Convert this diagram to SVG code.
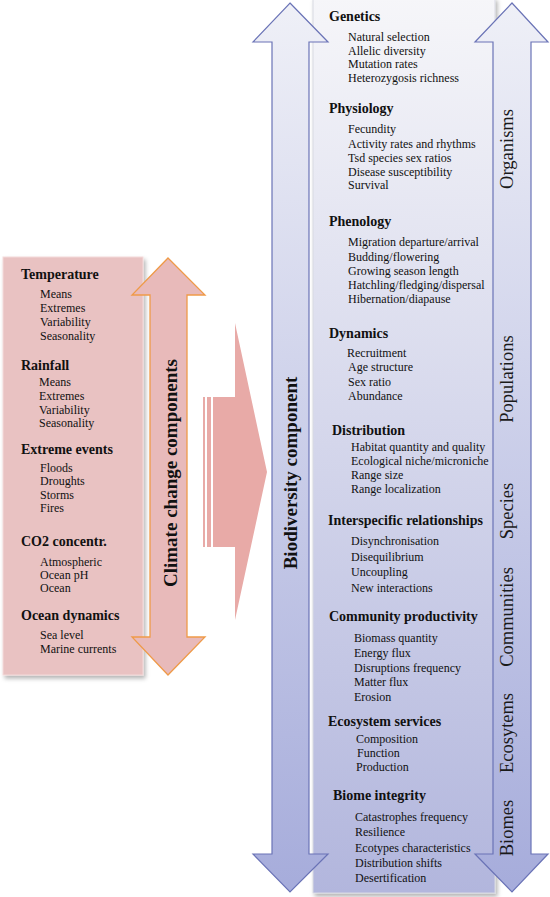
<svg xmlns="http://www.w3.org/2000/svg" width="550" height="897" viewBox="0 0 550 897">
<defs>
  <linearGradient id="gBlue" x1="0" y1="0" x2="0" y2="1">
    <stop offset="0" stop-color="#eff0f7"/>
    <stop offset="1" stop-color="#a6acdb"/>
  </linearGradient>
  <linearGradient id="gBox" x1="0" y1="0" x2="0" y2="1">
    <stop offset="0" stop-color="#f6f6f9"/>
    <stop offset="1" stop-color="#b2b6dd"/>
  </linearGradient>
  <filter id="shadow" x="-10%" y="-5%" width="130%" height="115%">
    <feGaussianBlur in="SourceAlpha" stdDeviation="2"/>
    <feOffset dx="2" dy="3" result="b"/>
    <feFlood flood-color="#000" flood-opacity="0.3"/>
    <feComposite in2="b" operator="in"/>
    <feMerge><feMergeNode/><feMergeNode in="SourceGraphic"/></feMerge>
  </filter>
</defs>
<style>
  text { font-family: "Liberation Serif", "Times New Roman", serif; fill: #111; }
  .h { font-weight: bold; font-size: 14px; }
  .i { font-size: 12px; }
  .big { font-weight: bold; font-size: 19px; text-anchor: middle; }
  .lvl { font-size: 18.5px; text-anchor: middle; fill: #1a1a1a; }
  .blueArrow { fill: url(#gBlue); stroke: #6a73b6; stroke-width: 1.2; }
</style>

<g id="climate-box">
  <rect x="3" y="257" width="140" height="418" fill="#e9c2c2" stroke="#f3dada" stroke-width="1" filter="url(#shadow)"/>
  <text class="h" x="21" y="279">Temperature</text>
  <text class="i" x="40" y="298">Means</text>
  <text class="i" x="40" y="312">Extremes</text>
  <text class="i" x="40" y="326">Variability</text>
  <text class="i" x="40" y="340">Seasonality</text>
  <text class="h" x="21" y="370">Rainfall</text>
  <text class="i" x="39" y="386">Means</text>
  <text class="i" x="39" y="400">Extremes</text>
  <text class="i" x="39" y="414">Variability</text>
  <text class="i" x="39" y="427">Seasonality</text>
  <text class="h" x="21" y="454">Extreme events</text>
  <text class="i" x="40" y="472">Floods</text>
  <text class="i" x="40" y="485">Droughts</text>
  <text class="i" x="40" y="499">Storms</text>
  <text class="i" x="40" y="512">Fires</text>
  <text class="h" x="21" y="546">CO2 concentr.</text>
  <text class="i" x="40" y="566">Atmospheric</text>
  <text class="i" x="40" y="579">Ocean pH</text>
  <text class="i" x="40" y="592">Ocean</text>
  <text class="h" x="21" y="620">Ocean dynamics</text>
  <text class="i" x="40" y="639">Sea level</text>
  <text class="i" x="40" y="653">Marine currents</text>
</g>

<g id="climate-arrow">
  <polygon points="168,258 205,295 187,295 187,637 205,637 168,675 132,637 150,637 150,295 132,295" fill="#e8baba" stroke="#ef9a48" stroke-width="1.3"/>
  <text class="big" transform="translate(177,473) rotate(-90)">Climate change components</text>
</g>

<g id="connectors">
  <g id="impact-arrow" fill="#e8aaa7">
    <polygon points="213,397 235,397 235,323 267,472 235,620 235,547 213,547"/>
    <rect x="203" y="397" width="2" height="150"/>
    <rect x="207" y="397" width="4" height="150"/>
  </g>
</g>

<g id="biodiversity-box">
  <rect x="313" y="-2" width="182" height="895" fill="url(#gBox)" stroke="#d8d9e2" stroke-width="1" filter="url(#shadow)"/>
  <text class="h" x="329" y="21">Genetics</text>
  <text class="i" x="348" y="41">Natural selection</text>
  <text class="i" x="348" y="55">Allelic diversity</text>
  <text class="i" x="348" y="68">Mutation rates</text>
  <text class="i" x="348" y="82">Heterozygosis richness</text>
  <text class="h" x="329" y="113">Physiology</text>
  <text class="i" x="348" y="133">Fecundity</text>
  <text class="i" x="348" y="148">Activity rates and rhythms</text>
  <text class="i" x="348" y="162">Tsd species sex ratios</text>
  <text class="i" x="348" y="176">Disease susceptibility</text>
  <text class="i" x="348" y="189">Survival</text>
  <text class="h" x="329" y="226">Phenology</text>
  <text class="i" x="348" y="246">Migration departure/arrival</text>
  <text class="i" x="348" y="261">Budding/flowering</text>
  <text class="i" x="348" y="275">Growing season length</text>
  <text class="i" x="348" y="289">Hatchling/fledging/dispersal</text>
  <text class="i" x="348" y="303">Hibernation/diapause</text>
  <text class="h" x="329" y="338">Dynamics</text>
  <text class="i" x="347" y="357">Recruitment</text>
  <text class="i" x="348" y="371">Age structure</text>
  <text class="i" x="348" y="386">Sex ratio</text>
  <text class="i" x="348" y="400">Abundance</text>
  <text class="h" x="332" y="435">Distribution</text>
  <text class="i" x="351" y="451">Habitat quantity and quality</text>
  <text class="i" x="351" y="465">Ecological niche/microniche</text>
  <text class="i" x="351" y="479">Range size</text>
  <text class="i" x="351" y="493">Range localization</text>
  <text class="h" x="328" y="525">Interspecific relationships</text>
  <text class="i" x="351" y="545">Disynchronisation</text>
  <text class="i" x="351" y="561">Disequilibrium</text>
  <text class="i" x="351" y="576">Uncoupling</text>
  <text class="i" x="351" y="592">New interactions</text>
  <text class="h" x="329" y="621">Community productivity</text>
  <text class="i" x="354" y="642">Biomass quantity</text>
  <text class="i" x="354" y="657">Energy flux</text>
  <text class="i" x="354" y="672">Disruptions frequency</text>
  <text class="i" x="354" y="686">Matter flux</text>
  <text class="i" x="354" y="701">Erosion</text>
  <text class="h" x="328" y="726">Ecosystem services</text>
  <text class="i" x="356" y="743">Composition</text>
  <text class="i" x="357" y="757">Function</text>
  <text class="i" x="356" y="771">Production</text>
  <text class="h" x="333" y="800">Biome integrity</text>
  <text class="i" x="355" y="821">Catastrophes frequency</text>
  <text class="i" x="355" y="836">Resilience</text>
  <text class="i" x="355" y="852">Ecotypes characteristics</text>
  <text class="i" x="355" y="867">Distribution shifts</text>
  <text class="i" x="355" y="882">Desertification</text>
</g>

<g id="biodiversity-arrow">
  <polygon class="blueArrow" points="290,3 328,42 309,42 309,854 328,854 290,892 253,854 272,854 272,42 253,42"/>
  <text class="big" transform="translate(297,473) rotate(-90)">Biodiversity component</text>
</g>

<g id="levels-arrow">
  <polygon class="blueArrow" points="512,3 548,42 531,42 531,854 548,854 512,892 475,854 493,854 493,42 475,42"/>
  <text class="lvl" transform="translate(513,149) rotate(-90)">Organisms</text>
  <text class="lvl" transform="translate(513,379) rotate(-90)">Populations</text>
  <text class="lvl" transform="translate(513,511) rotate(-90)">Species</text>
  <text class="lvl" transform="translate(513,617) rotate(-90)">Communities</text>
  <text class="lvl" transform="translate(513,733) rotate(-90)">Ecosytems</text>
  <text class="lvl" transform="translate(513,828) rotate(-90)">Biomes</text>
</g>
</svg>
